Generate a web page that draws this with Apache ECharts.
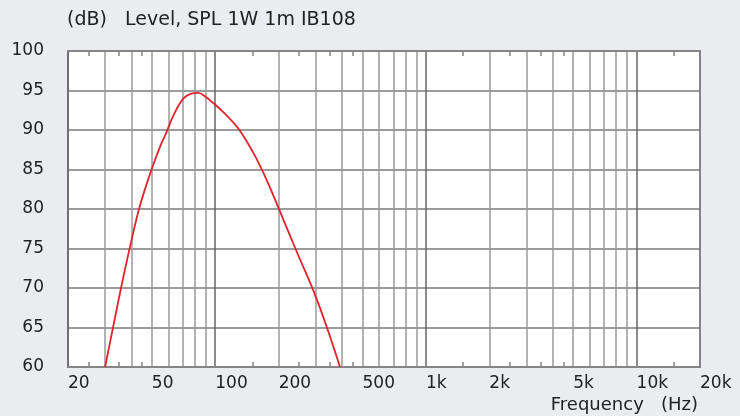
<!DOCTYPE html>
<html>
<head>
<meta charset="utf-8">
<script src="https://cdn.jsdelivr.net/npm/echarts@6/dist/echarts.min.js"></script>
<style>
  html, body { margin: 0; padding: 0; background: #eaecef; }
  #chart { width: 740px; height: 416px; }
</style>
</head>
<body>
<div id="chart"></div>
<script>
// frequency (Hz) and level (dB)
const freqs = [30, 33, 36.1, 40, 44.1, 50, 54.9, 58, 64, 70.7, 77, 83, 90, 97,
  108, 118.5, 131, 151, 165, 180, 200, 240, 292, 338, 391];
const levels = [60, 65.5, 70.6, 76.0, 80.6, 85.1, 88.0, 89.4, 92.1, 94.0, 94.6, 94.7, 94.2, 93.5,
  92.4, 91.3, 89.9, 87.2, 85.2, 83.0, 80.1, 75.0, 69.7, 65.1, 60];

const labelValues = [20, 50, 100, 200, 500, 1000, 2000, 5000, 10000, 20000];
const gridValues = [30, 40, 50, 60, 70, 80, 90, 200, 300, 400, 500, 600, 700, 800, 900,
  2000, 3000, 4000, 5000, 6000, 7000, 8000, 9000];
const decadeValues = [100, 1000, 10000];
const minorTicks = [25, 35, 45, 150, 250, 350, 450, 1500, 2500, 3500, 4500, 15000];

const FONT = 'DejaVu Sans';
const chart = echarts.init(document.getElementById('chart'));

// hidden helper axis: only draws vertical grid lines at given values
function gridAxis(values, color) {
  return {
    type: 'log', logBase: 10, min: 20, max: 20000, gridIndex: 0,
    axisLine: { show: false },
    axisLabel: { show: false, customValues: values },
    axisTick: { show: false, customValues: values },
    splitLine: { show: true, lineStyle: { color, width: 1.5 } }
  };
}

chart.setOption({
  backgroundColor: '#eaecef',
  animation: false,
  textStyle: { fontFamily: FONT },
  graphic: [
    {
      type: 'text', left: 67, top: 11,
      style: { text: '(dB)   Level, SPL 1W 1m IB108', font: '19px "DejaVu Sans"', fill: '#222' }
    },
    {
      type: 'text', right: 42, top: 396,
      style: { text: 'Frequency   (Hz)', font: '18px "DejaVu Sans"', fill: '#222' }
    }
  ],
  grid: {
    left: 68, right: 40, top: 51, bottom: 49,
    show: true, backgroundColor: '#ffffff', borderColor: '#858585', borderWidth: 2
  },
  xAxis: [
    {
      type: 'log', logBase: 10, min: 20, max: 20000, position: 'bottom',
      axisLine: { show: true, lineStyle: { color: '#858585', width: 2 } },
      axisTick: { show: true, inside: true, length: 5, customValues: minorTicks,
        lineStyle: { color: '#858585', width: 1.5 } },
      axisLabel: {
        customValues: labelValues, align: 'left', margin: 8,
        fontFamily: FONT, fontSize: 17, color: '#222',
        formatter: v => v >= 1000 ? (v / 1000) + 'k' : String(v)
      },
      splitLine: { show: false }
    },
    {
      type: 'log', logBase: 10, min: 20, max: 20000, position: 'top',
      axisLine: { show: true, lineStyle: { color: '#858585', width: 2 } },
      axisTick: { show: true, inside: true, length: 5, customValues: minorTicks,
        lineStyle: { color: '#858585', width: 1.5 } },
      axisLabel: { show: false },
      splitLine: { show: false }
    },
    gridAxis(gridValues, '#9a9a9a'),
    gridAxis(decadeValues, '#666666')
  ],
  yAxis: {
    type: 'value', min: 60, max: 100, interval: 5,
    axisLine: { show: true, lineStyle: { color: '#707070', width: 2 } },
    axisTick: { show: false },
    axisLabel: { margin: 24, fontFamily: FONT, fontSize: 17, color: '#222' },
    splitLine: { show: true, lineStyle: { color: '#7a7a7a', width: 1.5 } }
  },
  series: [{
    type: 'line',
    xAxisIndex: 0,
    data: freqs.map((f, i) => [f, levels[i]]),
    smooth: 0.4,
    showSymbol: false,
    lineStyle: { color: '#e0242c', width: 1.8 },
    z: 5
  }]
});
</script>
</body>
</html>
